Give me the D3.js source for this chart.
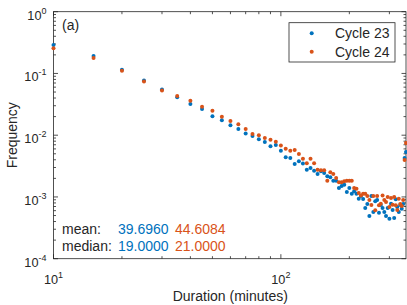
<!DOCTYPE html>
<html>
<head>
<meta charset="utf-8">
<script src="https://cdn.jsdelivr.net/npm/d3@7"></script>
<style>
body { margin: 0; background: #fff; }
text { font-family: "Liberation Sans", Arial, Helvetica, sans-serif; }
</style>
</head>
<body>
<div id="chart"></div>
<script>
// durations (minutes), 5-minute bins
var durations = [10, 15, 20, 25, 30, 35, 40, 45, 50, 55, 60, 65, 70, 75, 80, 85, 90, 95,
    100, 105, 110, 115, 120, 125, 130, 135, 140, 145, 150, 155, 160, 165, 170, 175, 180,
    185, 190, 195, 200, 205, 210, 215, 220, 225, 230, 235, 240, 245, 250, 255, 260, 265,
    270, 275, 280, 285, 290, 295, 300, 305, 310, 315, 320, 325, 330, 335, 340, 345, 350, 355];

var cycle23 = [0.289, 0.192, 0.115, 0.0769, 0.0550, 0.0411, 0.0320, 0.0266, 0.0202, 0.0174,
    0.0145, 0.0126, 0.0107, 0.00970, 0.00858, 0.00776, 0.00661, 0.00694,
    0.00561, 0.00439, 0.00427, 0.00342, 0.00378, 0.00348, 0.00276, 0.00294, 0.00266, 0.00235,
    0.00260, 0.00244, 0.00216, 0.00208, 0.00183, 0.00183, 0.00140,
    0.00150, 0.00158, 0.00120, 0.00140, 0.00113, 0.00124, 0.00113, 0.000937, 0.00104, 0.000926,
    0.000662, 0.000769, 0.000491, 0.00104, 0.000571, 0.000850, 0.000892,
    0.000556, 0.000741, 0.000662, 0.000571, 0.000491, 0.000662, 0.000444, 0.000777, 0.000615,
    0.000456, 0.000916, 0.000687, 0.000571, 0.000741, 0.000645, 0.000769, 0.00427, 0.00534];

var cycle24 = [0.256, 0.178, 0.111, 0.0741, 0.0530, 0.0431, 0.0362, 0.0289, 0.0249, 0.0199,
    0.0170, 0.0150, 0.0126, 0.01045, 0.00996, 0.00901, 0.00845, 0.00785,
    0.00681, 0.00604, 0.00561, 0.00576, 0.00496, 0.00416, 0.00351, 0.00416, 0.00351, 0.00276,
    0.00270, 0.00270, 0.00183, 0.00251, 0.00235, 0.00203, 0.00173,
    0.00173, 0.00179, 0.00183, 0.00183, 0.00183, 0.00140, 0.00136, 0.00116, 0.00106, 0.00113,
    0.00113, 0.00104, 0.000892, 0.000741, 0.00104, 0.000608, 0.00104,
    0.000732, 0.000777, 0.00106, 0.000892, 0.000828, 0.000998, 0.000687, 0.000962, 0.000749,
    0.000998, 0.000732, 0.000615, 0.000937, 0.000769, 0.000713, 0.000892, 0.00397, 0.00747];

var seriesNames = ["Cycle 23", "Cycle 24"];
var colors = ["#0072BD", "#D95319"];
var meanVals = ["39.6960", "44.6084"];
var medianVals = ["19.0000", "21.0000"];

var xMajor = [10, 100];
var xMinor = [20, 30, 40, 50, 60, 70, 80, 90, 200, 300];
var yMajor = [1e-4, 1e-3, 1e-2, 1e-1, 1];
var yExp = [-4, -3, -2, -1, 0];

var W = 407, H = 305;
var pL = 53.5, pR = 406, pT = 11.7, pB = 258.7;
var ink = "#262626";

var svg = d3.select("#chart").append("svg")
    .attr("width", W)
    .attr("height", H);

var x = d3.scaleLog().domain([10, 355]).range([pL, pR]);
var y = d3.scaleLog().domain([1e-4, 1]).range([pB, pT]);

var yMinor = [];
yMajor.slice(0, 4).forEach(function (d) {
    for (var k = 2; k <= 9; k++) yMinor.push(d * k);
});

// ticks (inward, on all four sides)
var g = svg.append("g").attr("stroke", ink).attr("stroke-width", 0.8);
function xTicks(vals, len) {
    vals.forEach(function (v) {
        g.append("line").attr("x1", x(v)).attr("x2", x(v)).attr("y1", pB).attr("y2", pB - len);
        g.append("line").attr("x1", x(v)).attr("x2", x(v)).attr("y1", pT).attr("y2", pT + len);
    });
}
function yTicks(vals, len) {
    vals.forEach(function (v) {
        g.append("line").attr("y1", y(v)).attr("y2", y(v)).attr("x1", pL).attr("x2", pL + len);
        g.append("line").attr("y1", y(v)).attr("y2", y(v)).attr("x1", pR).attr("x2", pR - len);
    });
}
xTicks(xMajor, 4.5);
xTicks(xMinor, 2.5);
yTicks(yMajor, 4.5);
yTicks(yMinor, 2.5);

// box
svg.append("rect")
    .attr("x", pL).attr("y", pT)
    .attr("width", pR - pL).attr("height", pB - pT)
    .attr("fill", "none").attr("stroke", ink).attr("stroke-width", 0.8);

// tick labels
var xl = svg.selectAll(".xlab").data(xMajor).enter().append("text")
    .attr("class", "xlab")
    .attr("x", function (d) { return x(d); })
    .attr("y", pB + 25.5)
    .attr("text-anchor", "middle")
    .attr("fill", ink)
    .style("font-size", "12.7px");
xl.append("tspan").text("10");
xl.append("tspan").attr("dy", -6).style("font-size", "9px")
    .text(function (d) { return Math.round(Math.log10(d)); });

var yl = svg.selectAll(".ylab").data(yMajor).enter().append("text")
    .attr("class", "ylab")
    .attr("x", pL - 7)
    .attr("y", function (d) { return y(d) + 8; })
    .attr("text-anchor", "end")
    .attr("fill", ink)
    .style("font-size", "12.7px");
yl.append("tspan").text("10");
yl.append("tspan").attr("dy", -6).style("font-size", "9px")
    .text(function (d, i) { return yExp[i] < 0 ? "-" + (-yExp[i]) : yExp[i]; });

// axis titles
svg.append("text")
    .attr("x", (pL + pR) / 2 + 0.5)
    .attr("y", 301)
    .attr("text-anchor", "middle")
    .attr("fill", ink)
    .style("font-size", "14px")
    .text("Duration (minutes)");

svg.append("text")
    .attr("transform", "translate(17," + ((pT + pB) / 2) + ") rotate(-90)")
    .attr("text-anchor", "middle")
    .attr("fill", ink)
    .style("font-size", "14px")
    .text("Frequency");

// points
[cycle23, cycle24].forEach(function (vals, si) {
    svg.append("g").selectAll("circle")
        .data(vals)
        .enter().append("circle")
        .attr("cx", function (d, i) { return x(durations[i]); })
        .attr("cy", function (d) { return y(d); })
        .attr("r", 2)
        .attr("fill", colors[si]);
});

// panel tag
svg.append("text")
    .attr("x", 62).attr("y", 30)
    .attr("fill", ink)
    .style("font-size", "14px")
    .text("(a)");

// stats
svg.append("text").attr("x", 62).attr("y", 233.5).attr("fill", ink)
    .style("font-size", "14px").text("mean:");
svg.append("text").attr("x", 62).attr("y", 250.5).attr("fill", ink)
    .style("font-size", "14px").text("median:");
[118, 175].forEach(function (px, i) {
    svg.append("text").attr("x", px).attr("y", 233.5).attr("fill", colors[i])
        .style("font-size", "14px").text(meanVals[i]);
    svg.append("text").attr("x", px).attr("y", 250.5).attr("fill", colors[i])
        .style("font-size", "14px").text(medianVals[i]);
});

// legend
var lg = svg.append("g").attr("transform", "translate(289,22.7)");
lg.append("rect")
    .attr("width", 106).attr("height", 39.3)
    .attr("fill", "#fff").attr("stroke", ink).attr("stroke-width", 0.8);
var items = lg.selectAll(".leg").data(seriesNames).enter().append("g")
    .attr("class", "leg")
    .attr("transform", function (d, i) { return "translate(0," + (10.6 + i * 18.4) + ")"; });
items.append("circle").attr("cx", 22.7).attr("cy", 0).attr("r", 2)
    .attr("fill", function (d, i) { return colors[i]; });
items.append("text").attr("x", 46).attr("y", 5)
    .attr("fill", ink)
    .style("font-size", "14px")
    .text(function (d) { return d; });
</script>
</body>
</html>
